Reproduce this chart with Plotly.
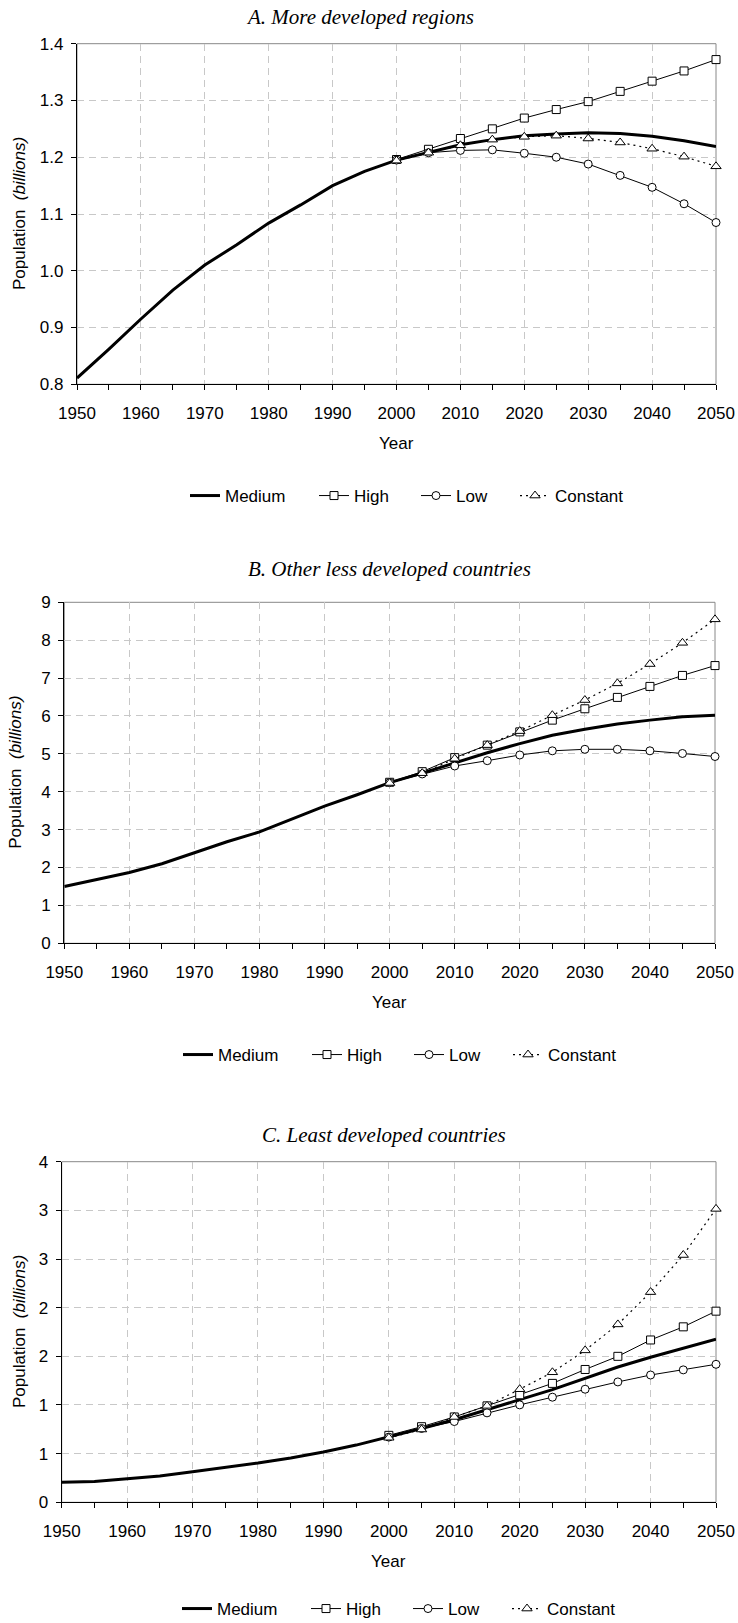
import plotly.graph_objects as go

# figure size in pixels, everything is placed in paper coords computed from these
W, H = 738, 1623

years_all = [1950, 1955, 1960, 1965, 1970, 1975, 1980, 1985, 1990, 1995, 2000,
             2005, 2010, 2015, 2020, 2025, 2030, 2035, 2040, 2045, 2050]
years_proj = [2000, 2005, 2010, 2015, 2020, 2025, 2030, 2035, 2040, 2045, 2050]

# A. More developed regions (billions)
a_medium = [0.811, 0.862, 0.915, 0.966, 1.010, 1.046, 1.084, 1.116, 1.150, 1.175, 1.195,
            1.209, 1.222, 1.231, 1.238, 1.241, 1.243, 1.242, 1.237, 1.229, 1.219]
a_high = [1.196, 1.214, 1.233, 1.250, 1.269, 1.284, 1.298, 1.316, 1.334, 1.352, 1.372]
a_low = [1.195, 1.208, 1.212, 1.213, 1.207, 1.200, 1.188, 1.168, 1.147, 1.118, 1.085]
a_const = [1.194, 1.208, 1.221, 1.231, 1.236, 1.238, 1.233, 1.226, 1.215, 1.201, 1.184]

# B. Other less developed countries
b_medium = [1.50, 1.69, 1.87, 2.10, 2.39, 2.68, 2.94, 3.28, 3.62, 3.92, 4.24,
            4.49, 4.76, 5.03, 5.27, 5.49, 5.65, 5.79, 5.89, 5.98, 6.02]
b_high = [4.25, 4.53, 4.90, 5.23, 5.58, 5.89, 6.19, 6.49, 6.78, 7.07, 7.33]
b_low = [4.24, 4.47, 4.68, 4.82, 4.97, 5.08, 5.12, 5.12, 5.08, 5.01, 4.93]
b_const = [4.23, 4.49, 4.87, 5.23, 5.60, 6.02, 6.42, 6.86, 7.37, 7.93, 8.55]

# C. Least developed countries
c_medium = [0.207, 0.214, 0.242, 0.271, 0.314, 0.356, 0.403, 0.456, 0.517, 0.588, 0.670,
            0.759, 0.848, 0.955, 1.055, 1.158, 1.276, 1.390, 1.490, 1.580, 1.675]
c_high = [0.688, 0.777, 0.877, 0.991, 1.105, 1.222, 1.365, 1.500, 1.668, 1.803, 1.964]
c_low = [0.670, 0.759, 0.830, 0.919, 1.001, 1.080, 1.162, 1.237, 1.308, 1.361, 1.418]
c_const = [0.663, 0.748, 0.877, 0.991, 1.162, 1.336, 1.561, 1.828, 2.160, 2.541, 3.015]

c_tickvals = [0, 0.5, 1, 1.5, 2, 2.5, 3, 3.5]
c_ticktext = ["0", "1", "1", "2", "2", "3", "3", "4"]

titles = ["A. More developed regions", "B. Other less developed countries",
          "C. Least developed countries"]

# plot boxes in pixels: left, right, top, bottom
boxes = [(77, 716, 43.7, 384.3), (64.3, 715, 602.3, 943.3), (61.7, 716, 1161.7, 1502.3)]
title_pos = [(360, 17), (389, 569), (384, 1135)]
ytitle_x = [19, 16, 19]
# legend: left edge and vertical centre, plus per-entry widths to spread the items
legend_pos = [(185, 496), (178, 1055), (177, 1609)]
entry_w = [84, 57, 54, None]

sans = "Liberation Sans, Arial, sans-serif"
serif = "Liberation Serif, Times New Roman, serif"


def px(x):
    return x / W


def py(y):
    return 1 - y / H


fig = go.Figure()

panels = [
    (a_medium, a_high, a_low, a_const),
    (b_medium, b_high, b_low, b_const),
    (c_medium, c_high, c_low, c_const),
]

for i, (med, high, low, const) in enumerate(panels):
    n = "" if i == 0 else str(i + 1)
    xa, ya, lg = "x" + n, "y" + n, "legend" + n
    mk = dict(color="white", line=dict(color="black", width=1))
    fig.add_trace(go.Scatter(x=years_all, y=med, mode="lines", name="Medium",
                             line=dict(color="black", width=3), xaxis=xa, yaxis=ya,
                             legend=lg, legendwidth=entry_w[0], cliponaxis=False))
    fig.add_trace(go.Scatter(x=years_proj, y=high, mode="lines+markers", name="High",
                             line=dict(color="black", width=1),
                             marker=dict(symbol="square", size=8, **mk),
                             xaxis=xa, yaxis=ya, legend=lg, legendwidth=entry_w[1],
                             cliponaxis=False))
    fig.add_trace(go.Scatter(x=years_proj, y=low, mode="lines+markers", name="Low",
                             line=dict(color="black", width=1),
                             marker=dict(symbol="circle", size=8, **mk),
                             xaxis=xa, yaxis=ya, legend=lg, legendwidth=entry_w[2],
                             cliponaxis=False))
    fig.add_trace(go.Scatter(x=years_proj, y=const, mode="lines+markers", name="Constant",
                             line=dict(color="black", width=1.2, dash="2px,4px"),
                             marker=dict(symbol="triangle-up", size=9, **mk),
                             xaxis=xa, yaxis=ya, legend=lg, cliponaxis=False))

    l, r, t, b = boxes[i]
    grid = dict(showgrid=True, gridcolor="#c8c8c8", gridwidth=1, griddash="7px,5px",
                showline=True, linecolor="black", linewidth=1.3,
                ticks="outside", ticklen=5, tickcolor="black", tickwidth=1,
                tickfont=dict(family=sans, size=17, color="black"),
                zeroline=False, automargin=False)
    fig.layout["xaxis" + n] = dict(
        domain=[px(l), px(r)], anchor=ya, range=[1950, 2050], dtick=10, tick0=1950,
        minor=dict(dtick=5, ticks="outside", ticklen=5, tickcolor="black", showgrid=False),
        ticklabelstandoff=8, **grid)
    ydict = dict(domain=[py(b), py(t)], anchor=xa, ticklabelstandoff=4, **grid)
    if i == 0:
        ydict.update(range=[0.8, 1.4], dtick=0.1, tickformat=".1f")
    elif i == 1:
        ydict.update(range=[0, 9], dtick=1)
    else:
        ydict.update(range=[0, 3.5], tickvals=c_tickvals, ticktext=c_ticktext)
    fig.layout["yaxis" + n] = ydict

    # grey frame on top / right like the original
    fig.add_shape(type="rect", xref=xa + " domain", yref=ya + " domain",
                  x0=0, x1=1, y0=0, y1=1, line=dict(color="#888888", width=1),
                  layer="below")

    cx = (l + r) / 2
    tx, ty = title_pos[i]
    fig.add_annotation(text="<i>" + titles[i] + "</i>", x=px(tx), y=py(ty),
                       xref="paper", yref="paper", showarrow=False,
                       font=dict(family=serif, size=21, color="black"),
                       xanchor="center", yanchor="middle")
    fig.add_annotation(text="Year", x=px(cx), y=py(b + 59), xref="paper", yref="paper",
                       showarrow=False, font=dict(family=sans, size=17, color="black"),
                       xanchor="center", yanchor="middle")
    fig.add_annotation(text="Population  <i>(billions)</i>", x=px(ytitle_x[i]),
                       y=py((t + b) / 2), xref="paper", yref="paper", textangle=-90,
                       showarrow=False, font=dict(family=sans, size=17, color="black"),
                       xanchor="center", yanchor="middle")

    lx, ly = legend_pos[i]
    fig.layout[lg] = dict(orientation="h", x=px(lx), y=py(ly),
                          xanchor="left", yanchor="middle",
                          font=dict(family=sans, size=17, color="black"),
                          bgcolor="rgba(0,0,0,0)", tracegroupgap=0)

fig.update_layout(width=W, height=H, margin=dict(l=0, r=0, t=0, b=0, autoexpand=False),
                  paper_bgcolor="white", plot_bgcolor="white", showlegend=True)

# the page body has a default 8px margin, drop it so the figure sits at 0,0
fig.write_html("out.html", config={"displayModeBar": False},
               post_script="document.body.style.margin='0px';")
